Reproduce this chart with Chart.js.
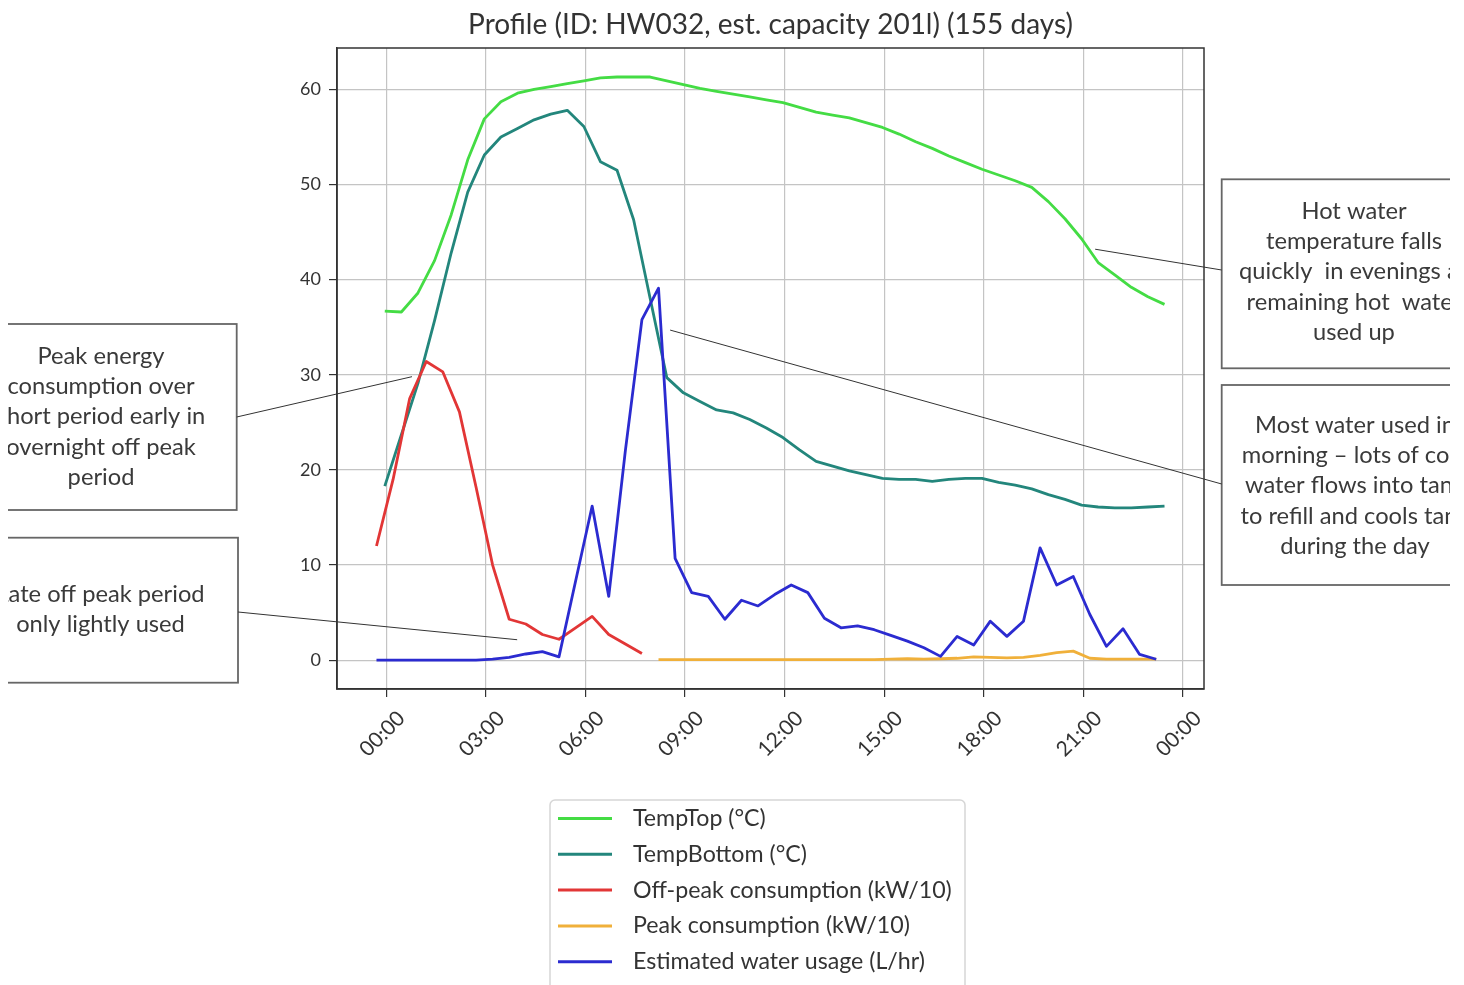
<!DOCTYPE html>
<html>
<head>
<meta charset="utf-8">
<script src="https://cdn.jsdelivr.net/npm/chart.js@4.4.0/dist/chart.umd.min.js"></script>
<style>
html,body{margin:0;padding:0;background:#fff;}
canvas{display:block;}
</style>
</head>
<body>
<canvas id="c" width="1464" height="985"></canvas>
<script>
// ---------- DATA ----------
const chartTitle = 'Profile (ID: HW032, est. capacity 201l) (155 days)';
const seriesNames = ['TempTop (°C)', 'TempBottom (°C)', 'Off-peak consumption (kW/10)', 'Peak consumption (kW/10)', 'Estimated water usage (L/hr)'];

// hour of day of each temperature sample (half-hourly)
const tempHours = [-0.05,0.45,0.95,1.45,1.95,2.45,2.95,3.45,3.95,4.45,4.95,5.45,5.95,6.45,6.95,7.45,7.95,8.45,8.95,9.45,9.95,10.45,10.95,11.45,11.95,12.45,12.95,13.45,13.95,14.45,14.95,15.45,15.95,16.45,16.95,17.45,17.95,18.45,18.95,19.45,19.95,20.45,20.95,21.45,21.95,22.45,22.95,23.45];
// hour of day of each consumption / water sample (half-hourly)
const usageHours = [-0.3,0.2,0.7,1.2,1.7,2.2,2.7,3.2,3.7,4.2,4.7,5.2,5.7,6.2,6.7,7.2,7.7,8.2,8.7,9.2,9.7,10.2,10.7,11.2,11.7,12.2,12.7,13.2,13.7,14.2,14.7,15.2,15.7,16.2,16.7,17.2,17.7,18.2,18.7,19.2,19.7,20.2,20.7,21.2,21.7,22.2,22.7,23.2];

const tempTop = [36.7,36.6,38.6,42.0,46.8,52.6,56.9,58.7,59.6,60.0,60.3,60.6,60.9,61.2,61.3,61.3,61.3,60.9,60.5,60.1,59.8,59.5,59.2,58.9,58.6,58.1,57.6,57.3,57.0,56.5,56.0,55.3,54.5,53.8,53.0,52.3,51.6,51.0,50.4,49.7,48.2,46.4,44.3,41.8,40.5,39.2,38.2,37.4];
const tempBottom = [18.3,23.7,29.1,35.7,42.8,49.2,53.1,55.0,55.9,56.8,57.4,57.8,56.1,52.4,51.5,46.3,38.0,29.7,28.1,27.2,26.3,26.0,25.3,24.4,23.4,22.1,20.9,20.4,19.9,19.5,19.1,19.0,19.0,18.8,19.0,19.1,19.1,18.7,18.4,18.0,17.4,16.9,16.3,16.1,16.0,16.0,16.1,16.2];
const offPeak = [12.0,19.0,27.5,31.4,30.3,26.1,18.2,10.0,4.3,3.8,2.7,2.2,3.4,4.6,2.7,1.7,0.7,null,null,null,null,null,null,null,null,null,null,null,null,null,null,null,null,null,null,null,null,null,null,null,null,null,null,null,null,null,null,null];
const peak = [null,null,null,null,null,null,null,null,null,null,null,null,null,null,null,null,null,0.05,0.05,0.05,0.05,0.05,0.05,0.05,0.05,0.05,0.05,0.05,0.05,0.05,0.05,0.1,0.15,0.1,0.15,0.2,0.35,0.3,0.25,0.3,0.5,0.8,0.95,0.2,0.1,0.1,0.1,0.1];
const water = [0,0,0,0,0,0,0,0.1,0.3,0.65,0.9,0.35,8.3,16.2,6.7,22.0,35.8,39.1,10.7,7.1,6.7,4.3,6.3,5.7,6.9,7.9,7.1,4.4,3.4,3.6,3.2,2.6,2.0,1.3,0.4,2.5,1.6,4.1,2.5,4.1,11.8,7.9,8.8,4.8,1.45,3.3,0.6,0.1];

const xTickHours = [0,3,6,9,12,15,18,21,24];
const xTickLabels = ['00:00','03:00','06:00','09:00','12:00','15:00','18:00','21:00','00:00'];
const yTicks = [0,10,20,30,40,50,60];

// annotation texts and the data point each one points at
const noteTexts = [
  ['Peak energy','consumption over','short period early in','overnight off peak','period'],
  ['Late off peak period','only lightly used'],
  ['Hot water','temperature falls','quickly  in evenings as','remaining hot  water','used up'],
  ['Most water used in','morning – lots of cold','water flows into tank','to refill and cools tank','during the day']
];
const noteTargetHours = [0.77, 3.94, 21.36, 8.55];
const noteTargetValues = [29.8, 2.15, 43.2, 34.7];

// ---------- STYLE / LAYOUT ----------
const colors = ['#44dc44','#23867c','#e23636','#f0b03a','#2b2bd0'];
const FONT = 'Lato, "Open Sans", sans-serif';
const noteBoxes = [
  {x0:-10, x1:236.7, y0:324, y1:510, cx:101, ly:356, anchorY:417, side:'right'},
  {x0:-10, x1:238, y0:537.7, y1:682.7, cx:100.5, ly:594, anchorY:612, side:'right'},
  {x0:1221.7, x1:1500, y0:179.3, y1:368.3, cx:1354, ly:211, anchorY:270, side:'left'},
  {x0:1221.7, x1:1500, y0:385, y1:585, cx:1355, ly:425, anchorY:484, side:'left'}
];

function pairs(xs, ys){ return xs.map((x,i)=>({x:x, y:ys[i]})); }

const datasets = [
  {label:seriesNames[0], data:pairs(tempHours,tempTop), borderColor:colors[0], order:5},
  {label:seriesNames[1], data:pairs(tempHours,tempBottom), borderColor:colors[1], order:4},
  {label:seriesNames[2], data:pairs(usageHours,offPeak), borderColor:colors[2], order:3},
  {label:seriesNames[3], data:pairs(usageHours,peak), borderColor:colors[3], order:2},
  {label:seriesNames[4], data:pairs(usageHours,water), borderColor:colors[4], order:1}
].map(d=>Object.assign(d,{borderWidth:2.8, pointRadius:0, tension:0, spanGaps:false, fill:false, borderJoinStyle:'round'}));

const decorPlugin = {
  id:'decor',
  afterDraw(chart){
    const ctx = chart.ctx, ca = chart.chartArea;
    const xs = chart.scales.x, ys = chart.scales.y;
    ctx.save();
    // plot frame
    ctx.strokeStyle = '#333'; ctx.lineWidth = 1.5;
    ctx.strokeRect(ca.left, ca.top, ca.right-ca.left, ca.bottom-ca.top);
    ctx.restore();

    ctx.save();
    ctx.beginPath(); ctx.rect(8,0,1442,985); ctx.clip();
    // annotation boxes
    noteBoxes.forEach((b,i)=>{
      ctx.fillStyle = '#fff';
      ctx.fillRect(b.x0, b.y0, b.x1-b.x0, b.y1-b.y0);
      ctx.strokeStyle = '#666'; ctx.lineWidth = 1.8;
      ctx.strokeRect(b.x0, b.y0, b.x1-b.x0, b.y1-b.y0);
      ctx.fillStyle = '#3a3a3a';
      ctx.font = '23.7px ' + FONT;
      ctx.textAlign = 'center'; ctx.textBaseline = 'middle';
      noteTexts[i].forEach((t,j)=>ctx.fillText(t, b.cx, b.ly + j*30.4));
      // pointer line
      const px = xs.getPixelForValue(noteTargetHours[i]);
      const py = ys.getPixelForValue(noteTargetValues[i]);
      ctx.strokeStyle = '#333'; ctx.lineWidth = 1;
      ctx.beginPath();
      ctx.moveTo(b.side==='right' ? b.x1 : b.x0, b.anchorY);
      ctx.lineTo(px, py);
      ctx.stroke();
    });
    ctx.restore();

    // legend
    ctx.save();
    const lx = 550, ly = 800, lw = 415, lh = 210;
    ctx.fillStyle = 'rgba(255,255,255,0.9)';
    ctx.strokeStyle = '#d6d6d6'; ctx.lineWidth = 1.5;
    ctx.beginPath();
    ctx.roundRect(lx, ly, lw, lh, 5);
    ctx.fill(); ctx.stroke();
    ctx.font = '23.2px ' + FONT;
    ctx.textAlign = 'left'; ctx.textBaseline = 'middle';
    chart.data.datasets.forEach((d,i)=>{
      const y = 818.5 + i*35.8;
      ctx.strokeStyle = d.borderColor; ctx.lineWidth = 3;
      ctx.beginPath(); ctx.moveTo(558, y); ctx.lineTo(612, y); ctx.stroke();
      ctx.fillStyle = '#333';
      ctx.fillText(d.label, 633, y);
    });
    ctx.restore();
  }
};

function build(){
  new Chart(document.getElementById('c'), {
    type:'line',
    data:{datasets:datasets},
    plugins:[decorPlugin],
    options:{
      responsive:false,
      animation:false,
      layout:{padding:{left:277, right:260, top:0, bottom:196}},
      plugins:{
        legend:{display:false},
        tooltip:{enabled:false},
        title:{display:true, text:chartTitle, fullSize:false, color:'#333',
               font:{family:FONT, size:28, weight:'normal'}, padding:{top:8, bottom:6.4}}
      },
      scales:{
        x:{
          type:'linear', min:-1.49, max:24.64,
          afterBuildTicks:s=>{ s.ticks = xTickHours.map(v=>({value:v})); },
          afterFit:s=>{ s.height = 100; },
          ticks:{autoSkip:false, minRotation:45, maxRotation:45, labelOffset:15, padding:9,
                 color:'#333', font:{family:FONT, size:21},
                 callback:(v,i)=>xTickLabels[i]},
          grid:{color:'#c4c4c4', lineWidth:1.2, tickColor:'#333', tickLength:8, drawTicks:true},
          border:{display:true, color:'#333', width:1.5}
        },
        y:{
          type:'linear', min:-3.03, max:64.35,
          afterBuildTicks:s=>{ s.ticks = yTicks.map(v=>({value:v})); },
          afterFit:s=>{ s.width = 60; },
          ticks:{padding:8, color:'#333', font:{family:FONT, size:18},
                 callback:(v)=>String(v)},
          grid:{color:'#c4c4c4', lineWidth:1.2, tickColor:'#333', tickLength:8, drawTicks:true},
          border:{display:true, color:'#333', width:1.5}
        }
      }
    }
  });
}
if (document.fonts && document.fonts.load) {
  Promise.all([document.fonts.load('20px Lato')]).then(build, build);
} else { build(); }
</script>
</body>
</html>
